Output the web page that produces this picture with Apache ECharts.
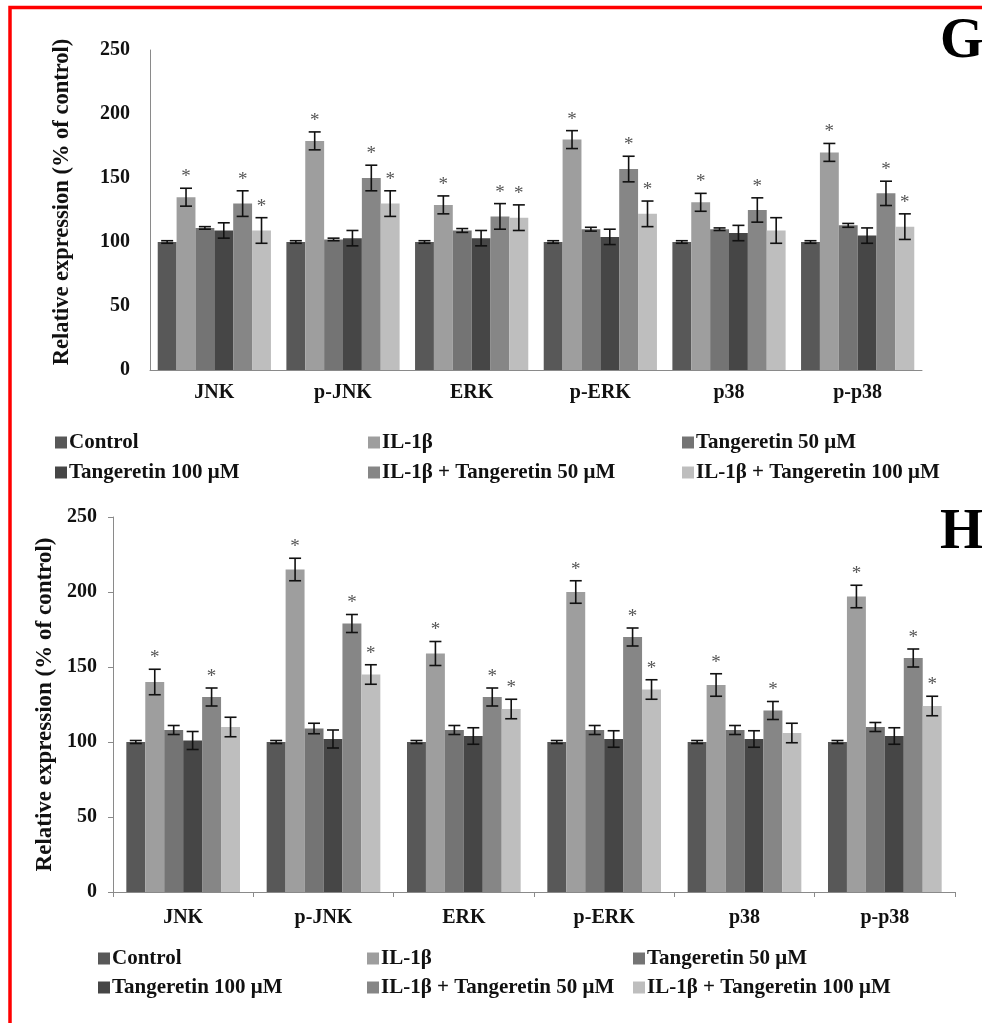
<!DOCTYPE html>
<html>
<head>
<meta charset="utf-8">
<script src="https://cdn.jsdelivr.net/npm/echarts@6/dist/echarts.min.js"></script>
<style>
html,body{margin:0;padding:0;background:#fff;}
#chart{width:982px;height:1023px;}
</style>
</head>
<body>
<div id="chart"></div>
<script>
// ---------- data ----------
const categories = ['JNK', 'p-JNK', 'ERK', 'p-ERK', 'p38', 'p-p38'];
const groupNames = ['Control', 'IL-1β', 'Tangeretin 50 μM', 'Tangeretin 100 μM', 'IL-1β + Tangeretin 50 μM', 'IL-1β + Tangeretin 100 μM'];
const groupColors = ['#585858', '#9e9e9e', '#747474', '#464646', '#868686', '#bebebe'];
const yTicks = [0, 50, 100, 150, 200, 250];

// Panel G
const gControl   = [100, 100, 100, 100, 100, 100];
const gIL1b      = [135, 179, 129, 180, 131, 170];
const gTan50     = [111, 102, 109, 110, 110, 113];
const gTan100    = [109, 103, 103, 104, 107, 105];
const gILTan50   = [130, 150, 120, 157, 125, 138];
const gILTan100  = [109, 130, 119, 122, 109, 112];
const gControlErr  = [1, 1, 1, 1, 1, 1];
const gIL1bErr     = [7, 7, 7, 7, 7, 7];
const gTan50Err    = [1, 1, 1.5, 1.5, 1, 1.5];
const gTan100Err   = [6, 6, 6, 6, 6, 6];
const gILTan50Err  = [10, 10, 10, 10, 9.5, 9.5];
const gILTan100Err = [10, 10, 10, 10, 10, 10];
const gControlStar  = [0, 0, 0, 0, 0, 0];
const gIL1bStar     = [1, 1, 1, 1, 1, 1];
const gTan50Star    = [0, 0, 0, 0, 0, 0];
const gTan100Star   = [0, 0, 0, 0, 0, 0];
const gILTan50Star  = [1, 1, 1, 1, 1, 1];
const gILTan100Star = [1, 1, 1, 1, 0, 1];

// Panel H
const hControl   = [100, 100, 100, 100, 100, 100];
const hIL1b      = [140, 215, 159, 200, 138, 197];
const hTan50     = [108, 109, 108, 108, 108, 110];
const hTan100    = [101, 102, 104, 102, 102, 104];
const hILTan50   = [130, 179, 130, 170, 121, 156];
const hILTan100  = [110, 145, 122, 135, 106, 124];
const hControlErr  = [1, 1, 1, 1, 1, 1];
const hIL1bErr     = [8.5, 7.5, 8, 7.5, 7.5, 7.5];
const hTan50Err    = [3, 3.5, 3, 3, 3, 3];
const hTan100Err   = [6, 6, 5.5, 5.5, 5.5, 5.5];
const hILTan50Err  = [6, 6, 6, 6, 6, 6];
const hILTan100Err = [6.5, 6.5, 6.5, 6.5, 6.5, 6.5];
const hControlStar  = [0, 0, 0, 0, 0, 0];
const hIL1bStar     = [1, 1, 1, 1, 1, 1];
const hTan50Star    = [0, 0, 0, 0, 0, 0];
const hTan100Star   = [0, 0, 0, 0, 0, 0];
const hILTan50Star  = [1, 1, 1, 1, 1, 1];
const hILTan100Star = [0, 1, 1, 1, 0, 1];

// ---------- build ----------
const FONT = '"Liberation Serif", "Times New Roman", serif';
const panels = [
  { values: [gControl, gIL1b, gTan50, gTan100, gILTan50, gILTan100],
    errs: [gControlErr, gIL1bErr, gTan50Err, gTan100Err, gILTan50Err, gILTan100Err],
    stars: [gControlStar, gIL1bStar, gTan50Star, gTan100Star, gILTan50Star, gILTan100Star],
    gap: 0.12 },
  { values: [hControl, hIL1b, hTan50, hTan100, hILTan50, hILTan100],
    errs: [hControlErr, hIL1bErr, hTan50Err, hTan100Err, hILTan50Err, hILTan100Err],
    stars: [hControlStar, hIL1bStar, hTan50Star, hTan100Star, hILTan50Star, hILTan100Star],
    gap: 0.19 }
];

const series = [];
panels.forEach((p, pi) => {
  p.values.forEach((vals, si) => {
    series.push({
      type: 'bar', name: groupNames[si], xAxisIndex: pi, yAxisIndex: pi,
      data: vals, barGap: '0%', barCategoryGap: (p.gap * 100) + '%',
      itemStyle: { color: groupColors[si] }, silent: true, animation: false
    });
  });
  p.values.forEach((vals, si) => {
    const idx = si;
    const gap = p.gap;
    series.push({
      type: 'custom', name: 'err' + pi + '_' + si, xAxisIndex: pi, yAxisIndex: pi,
      data: vals.map((v, ci) => [ci, v, p.errs[si][ci], p.stars[si][ci]]),
      encode: { x: 0, y: 1 }, z: 5, silent: true, animation: false,
      renderItem: function (params, api) {
        const cat = api.value(0), val = api.value(1), err = api.value(2), star = api.value(3);
        const band = api.size([1, 0])[0];
        const groupW = band * (1 - gap);
        const bw = groupW / 6;
        const cx = api.coord([cat, val])[0] - groupW / 2 + (idx + 0.5) * bw;
        const yT = api.coord([cat, val + err])[1];
        const yB = api.coord([cat, val - err])[1];
        const cap = 6;
        const st = { stroke: '#111', lineWidth: 1.6 };
        const children = [
          { type: 'line', shape: { x1: cx, y1: yT, x2: cx, y2: yB }, style: st },
          { type: 'line', shape: { x1: cx - cap, y1: yT, x2: cx + cap, y2: yT }, style: st },
          { type: 'line', shape: { x1: cx - cap, y1: yB, x2: cx + cap, y2: yB }, style: st }
        ];
        if (star) {
          children.push({ type: 'text', style: { text: '*', x: cx, y: yT - 11, align: 'center', verticalAlign: 'middle',
            font: '19px ' + FONT, fill: '#555' } });
        }
        return { type: 'group', children: children };
      }
    });
  });
});

const axisLabelStyle = { fontFamily: FONT, fontWeight: 'bold', fontSize: 20, color: '#111' };
const legendPos = [
  { xs: [55, 368, 682], ys: [443, 473] },
  { xs: [98, 367, 633], ys: [959, 988] }
];
const legends = [];
legendPos.forEach(lp => {
  groupNames.forEach((n, i) => {
    legends.push({
      data: [n], left: lp.xs[i % 3], top: lp.ys[Math.floor(i / 3)] - 11, padding: 0,
      icon: 'rect', itemWidth: 12, itemHeight: 12, selectedMode: false,
      textStyle: { fontFamily: FONT, fontWeight: 'bold', fontSize: 21, color: '#111', padding: [0, 0, 0, -3] }
    });
  });
});

const option = {
  backgroundColor: '#fff',
  animation: false,
  grid: [
    { left: 150, right: 60, top: 50, height: 320 },
    { left: 113, right: 27, top: 517, height: 375 }
  ],
  xAxis: [
    { type: 'category', gridIndex: 0, data: categories,
      axisLine: { lineStyle: { color: '#8a8a8a', width: 1 } }, axisTick: { show: false },
      axisLabel: Object.assign({ margin: 13 }, axisLabelStyle) },
    { type: 'category', gridIndex: 1, data: categories,
      axisLine: { lineStyle: { color: '#8a8a8a', width: 1 } },
      axisTick: { show: true, length: 5, lineStyle: { color: '#8a8a8a' } },
      axisLabel: Object.assign({ margin: 16 }, axisLabelStyle) }
  ],
  yAxis: [
    { type: 'value', gridIndex: 0, min: yTicks[0], max: yTicks[yTicks.length - 1], interval: 50,
      axisLine: { show: true, lineStyle: { color: '#8a8a8a', width: 1 } }, axisTick: { show: false },
      splitLine: { show: false },
      axisLabel: Object.assign({ margin: 20 }, axisLabelStyle),
      name: 'Relative expression (% of control)', nameLocation: 'middle', nameGap: 76,
      nameTextStyle: { fontFamily: FONT, fontWeight: 'bold', fontSize: 22.5, color: '#111', padding: [0, 0, 0, 16] } },
    { type: 'value', gridIndex: 1, min: yTicks[0], max: yTicks[yTicks.length - 1], interval: 50,
      axisLine: { show: true, lineStyle: { color: '#8a8a8a', width: 1 } },
      axisTick: { show: true, length: 5, lineStyle: { color: '#8a8a8a' } },
      splitLine: { show: false },
      axisLabel: Object.assign({ margin: 16 }, axisLabelStyle),
      name: 'Relative expression (% of control)', nameLocation: 'middle', nameGap: 56,
      nameTextStyle: { fontFamily: FONT, fontWeight: 'bold', fontSize: 23, color: '#111' } }
  ],
  legend: legends,
  series: series,
  graphic: [
    { type: 'rect', shape: { x: 10, y: 7.5, width: 1000, height: 1050 },
      style: { fill: 'none', stroke: '#ff0000', lineWidth: 3.5 }, z: 100, silent: true },
    { type: 'text', left: 940, top: 15, style: { text: 'G', font: 'bold 56px ' + FONT, fill: '#000' }, silent: true },
    { type: 'text', left: 940, top: 506, style: { text: 'H', font: 'bold 56px ' + FONT, fill: '#000' }, silent: true }
  ]
};

const chart = echarts.init(document.getElementById('chart'), null, { renderer: 'canvas' });
chart.setOption(option);
</script>
</body>
</html>
